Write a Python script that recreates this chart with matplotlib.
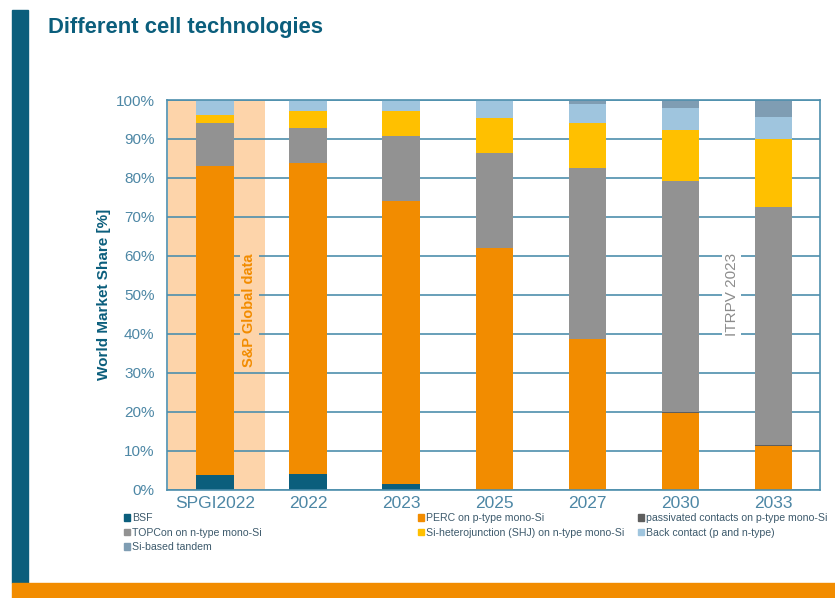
import numpy as np
import matplotlib
matplotlib.use('Agg')
import matplotlib.pyplot as plt
from matplotlib.patches import Patch, Rectangle

plt.rcParams['font.family'] = ['Liberation Sans', 'DejaVu Sans']

# data (% world market share)
cats = ['SPGI2022', '2022', '2023', '2025', '2027', '2030', '2033']
bsf = [3.6, 4.1, 1.5, 0, 0, 0, 0]
perc = [79.5, 79.7, 72.6, 62.0, 38.7, 19.7, 11.1]
pass_p = [0, 0, 0, 0, 0, 0.3, 0.4]
topcon = [10.9, 8.9, 16.7, 24.5, 43.8, 59.1, 61.0]
shj = [2.2, 4.6, 6.5, 9.0, 11.5, 13.2, 17.4]
back = [3.8, 2.7, 2.7, 4.5, 5.1, 5.6, 5.8]
tandem = [0, 0, 0, 0, 0.9, 2.1, 4.3]

series = [
    ('BSF', bsf, '#0b5e7c'),
    ('PERC on p-type mono-Si', perc, '#f28c00'),
    ('passivated contacts on p-type mono-Si', pass_p, '#5e5e5e'),
    ('TOPCon on n-type mono-Si', topcon, '#929292'),
    ('Si-heterojunction (SHJ) on n-type mono-Si', shj, '#ffc000'),
    ('Back contact (p and n-type)', back, '#9fc5de'),
    ('Si-based tandem', tandem, '#7f9db3'),
]

teal = '#0b5e7c'
axcol = '#4e8fad'
txtcol = '#4d87a5'

fig = plt.figure(figsize=(8.35, 5.98), dpi=100)

# decoration: left bar, bottom band
fig.patches.append(Rectangle((12/835, 15/598), 16/835, 1 - 25/598, transform=fig.transFigure,
                             color=teal, zorder=0))
fig.patches.append(Rectangle((12/835, 0), 1, 15/598, transform=fig.transFigure,
                             color='#f28c00', zorder=0))
fig.text(48/835, 1 - 27/598, 'Different cell technologies', fontsize=15.8, fontweight='bold',
         color=teal, va='center', ha='left')

ax = fig.add_axes([167/835, 108.5/598, 653/835, 389.5/598])
x = np.arange(len(cats))
bottom = np.zeros(len(cats))
handles = []
for name, vals, col in series:
    vals = np.array(vals, dtype=float)
    ax.bar(x, vals, 0.4, bottom=bottom, color=col, zorder=2)
    bottom += vals
    handles.append(Patch(color=col, label=name))

ax.axvspan(-0.5, 0.54, color='#fdd4aa', zorder=0, lw=0)
ax.set_xlim(-0.515, 6.5)
ax.set_ylim(0, 100)
ax.set_yticks(np.arange(0, 101, 10))
ax.set_yticklabels(['%d%%' % v for v in range(0, 101, 10)])
ax.set_xticks(x)
ax.set_xticklabels(cats)
ax.set_axisbelow(True)
ax.yaxis.grid(True, color=axcol, lw=1.2)
ax.tick_params(length=0, colors=txtcol)
ax.tick_params(axis='y', labelsize=11, pad=9)
ax.tick_params(axis='x', labelsize=12.5, pad=5)
for s in ax.spines.values():
    s.set_color(axcol)
    s.set_linewidth(1.2)
ax.set_ylabel('World Market Share [%]', fontsize=11, fontweight='bold', color=teal, labelpad=3)

ax.text(0.37, 46, 'S&P Global data', rotation=90, color='#f28c00', fontsize=10.5,
        fontweight='bold', ha='center', va='center', zorder=3,
        bbox=dict(facecolor='#fdd4aa', edgecolor='none', pad=2))
ax.text(5.55, 50, 'ITRPV 2023', rotation=90, color='#8c8c8c', fontsize=11,
        ha='center', va='center', zorder=3,
        bbox=dict(facecolor='white', edgecolor='none', pad=2))

# legend in three fixed columns
cols = [[0, 3, 6], [1, 4], [2, 5]]
xs = [124, 418, 638]
for idx, xp in zip(cols, xs):
    fig.legend(handles=[handles[i] for i in idx], loc='upper left',
               bbox_to_anchor=(xp/835, 1 - 513/598), frameon=False, fontsize=7.6,
               handlelength=0.6, handleheight=0.6, handletextpad=0.2,
               labelspacing=0.45, borderaxespad=0, borderpad=0, labelcolor='#3d5a6c')

fig.savefig('out.png', dpi=100)
